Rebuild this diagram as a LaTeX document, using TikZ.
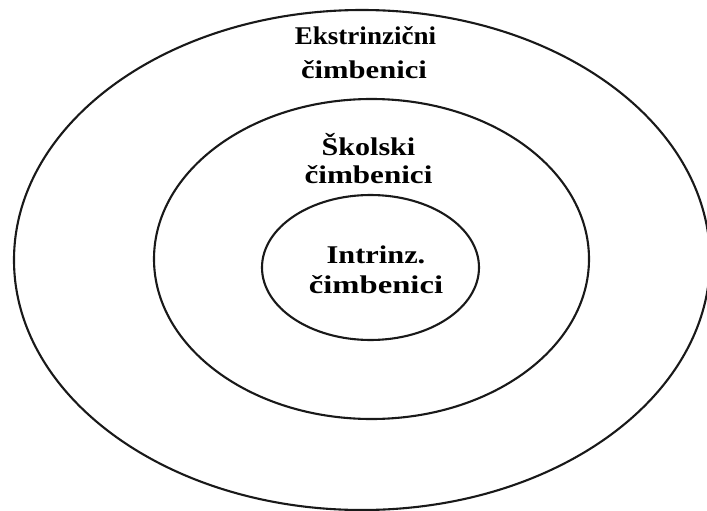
\documentclass[tikz,border=0pt]{standalone}
\usepackage{fontspec}
\setmainfont{Liberation Serif}
\begin{document}
\begin{tikzpicture}[x=1pt,y=-1pt,
  ring/.style={draw=black!90, line width=2.1pt},
  lbl/.style={font=\bfseries\fontsize{25.5}{28}\selectfont, anchor=base, inner sep=0pt, transform shape}]
\useasboundingbox (0,0) rectangle (707,511);
\fill[white] (0,0) rectangle (707,511);
\draw[ring] (362,260) ellipse [x radius=348, y radius=250];
\draw[ring] (371.5,259) ellipse [x radius=217.5, y radius=160];
\draw[ring] (370.5,267.5) ellipse [x radius=108.5, y radius=72.5];
\node[lbl, xscale=1.06] (ext1) at (365.5,45) {Ekstrinzični};
\node[lbl, xscale=1.20] (ext2) at (364,79) {čimbenici};
\node[lbl, xscale=1.18] (sko1) at (368.5,155) {Školski};
\node[lbl, xscale=1.22] (sko2) at (368.5,183) {čimbenici};
\node[lbl, xscale=1.19] (int1) at (376,263) {Intrinz.};
\node[lbl, xscale=1.28] (int2) at (376,293) {čimbenici};
\end{tikzpicture}
\end{document}
